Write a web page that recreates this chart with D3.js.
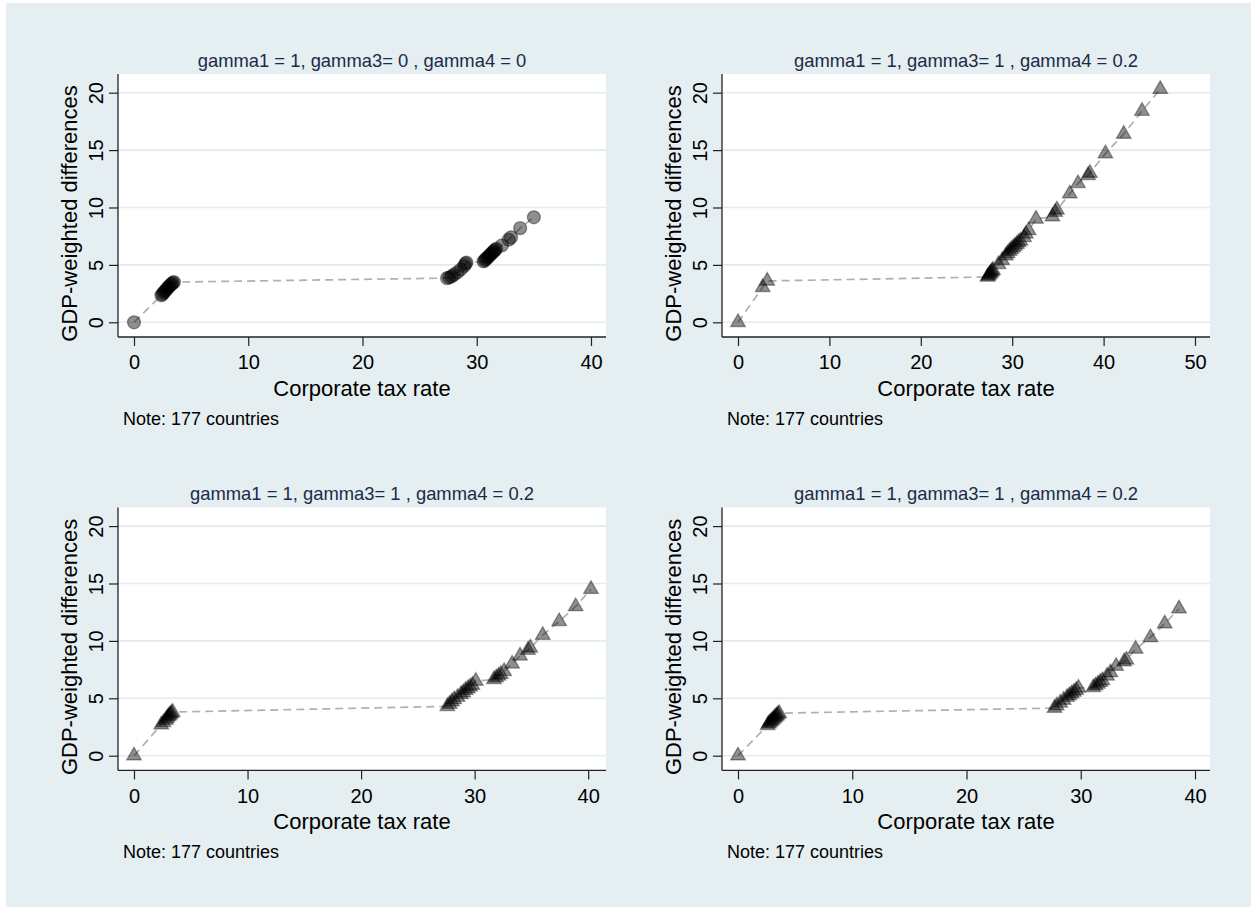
<!DOCTYPE html>
<html><head><meta charset="utf-8">
<script src="https://cdn.jsdelivr.net/npm/d3@7"></script>
<style>
body{margin:0;background:#fff}
svg{display:block}
text{font-family:"Liberation Sans",Arial,Helvetica,sans-serif}
</style>
</head><body>
<svg id="chart" width="1251" height="907"></svg>
<script>
// ---- data ----
const panelTitles = [
  "gamma1 = 1, gamma3= 0 , gamma4 = 0",
  "gamma1 = 1, gamma3= 1 , gamma4 = 0.2",
  "gamma1 = 1, gamma3= 1 , gamma4 = 0.2",
  "gamma1 = 1, gamma3= 1 , gamma4 = 0.2"
];
const xAxisTitle = "Corporate tax rate";
const yAxisTitle = "GDP-weighted differences";
const noteText = "Note: 177 countries";
const xTicks40 = [0, 10, 20, 30, 40];
const xTicks50 = [0, 10, 20, 30, 40, 50];
const yTicks = [0, 5, 10, 15, 20];

// panel 1 (circles)
const p1x = [0, 2.4, 2.5, 2.6, 2.7, 2.8, 2.9, 3.0, 3.1, 3.2, 3.3, 3.4, 3.5, 27.4, 27.6, 27.8, 28.0, 28.3, 28.6, 28.9, 29.0, 29.1, 30.6, 30.7, 30.8, 30.9, 31.0, 31.1, 31.2, 31.3, 31.4, 31.5, 31.6, 31.7, 32.2, 32.8, 33.0, 33.8, 35.0];
const p1y = [0, 2.35, 2.45, 2.6, 2.7, 2.8, 2.95, 3.05, 3.15, 3.25, 3.35, 3.45, 3.5, 3.85, 3.9, 4.0, 4.15, 4.35, 4.6, 4.9, 5.1, 5.2, 5.3, 5.4, 5.5, 5.6, 5.7, 5.8, 5.9, 6.0, 6.1, 6.2, 6.3, 6.4, 6.7, 7.2, 7.4, 8.2, 9.15];
// panel 2 (triangles)
const p2x = [0, 2.7, 3.2, 27.3, 27.4, 27.5, 27.6, 27.7, 27.8, 27.9, 28.5, 28.9, 29.3, 29.5, 29.7, 29.9, 30.1, 30.3, 30.5, 30.7, 30.9, 31.3, 31.5, 31.8, 32.6, 34.4, 34.7, 34.9, 36.3, 37.2, 38.3, 38.5, 40.2, 42.2, 44.2, 46.2];
const p2y = [0, 3.05, 3.6, 3.95, 4.05, 4.15, 4.25, 4.35, 4.45, 4.55, 5.05, 5.4, 5.8, 6.0, 6.2, 6.35, 6.5, 6.65, 6.8, 6.95, 7.1, 7.4, 7.7, 8.0, 9.0, 9.2, 9.6, 9.8, 11.2, 12.1, 12.8, 13.0, 14.7, 16.4, 18.4, 20.3];
// panel 3 (triangles)
const p3x = [0, 2.4, 2.6, 2.8, 2.9, 3.0, 3.1, 3.2, 3.3, 3.4, 27.6, 27.8, 28.0, 28.2, 28.5, 28.8, 29.0, 29.2, 29.4, 29.6, 29.8, 30.1, 31.7, 31.9, 32.1, 32.3, 32.6, 33.3, 34.0, 34.7, 34.9, 36.0, 37.45, 38.9, 40.25];
const p3y = [0, 2.7, 2.9, 3.1, 3.25, 3.4, 3.5, 3.6, 3.7, 3.8, 4.3, 4.5, 4.7, 4.9, 5.1, 5.35, 5.5, 5.7, 5.85, 6.0, 6.15, 6.5, 6.65, 6.8, 6.95, 7.1, 7.35, 8.0, 8.7, 9.2, 9.4, 10.5, 11.7, 13.0, 14.5];
// panel 4 (triangles)
const p4x = [0, 2.6, 2.7, 2.8, 2.9, 3.0, 3.1, 3.2, 3.3, 3.4, 3.5, 3.6, 27.7, 27.9, 28.2, 28.5, 28.8, 29.0, 29.2, 29.4, 29.6, 29.8, 31.1, 31.3, 31.5, 31.7, 31.9, 32.3, 32.6, 33.1, 33.8, 34.0, 34.8, 36.1, 37.35, 38.6];
const p4y = [0, 2.65, 2.8, 2.9, 3.0, 3.1, 3.2, 3.3, 3.4, 3.5, 3.6, 3.7, 4.15, 4.35, 4.6, 4.85, 5.1, 5.25, 5.4, 5.55, 5.7, 5.9, 5.95, 6.1, 6.25, 6.4, 6.55, 6.95, 7.25, 7.8, 8.2, 8.35, 9.3, 10.3, 11.5, 12.8];

// ---- layout ----
const svg = d3.select("#chart");
svg.append("rect").attr("x", 6).attr("y", 3).attr("width", 1245).attr("height", 904).attr("fill", "#e5eef0");

const PW = 488, PH = 263;
const panels = [
  {title: panelTitles[0], xs: p1x, ys: p1y, ticks: xTicks40, shape: "circle", left: 118, top: 74},
  {title: panelTitles[1], xs: p2x, ys: p2y, ticks: xTicks50, shape: "triangle", left: 722, top: 74},
  {title: panelTitles[2], xs: p3x, ys: p3y, ticks: xTicks40, shape: "triangle", left: 118, top: 507.4},
  {title: panelTitles[3], xs: p4x, ys: p4y, ticks: xTicks40, shape: "triangle", left: 722, top: 507.4}
];

panels.forEach(p => {
  const g = svg.append("g").attr("transform", `translate(${p.left},${p.top})`);
  const xMax = Math.max(d3.max(p.ticks), d3.max(p.xs));
  const x = d3.scaleLinear().domain([0, xMax]).range([16, PW - 15]);
  const y = d3.scaleLinear().domain([0, 20]).range([248.3, 18.7]);

  g.append("rect").attr("width", PW).attr("height", PH).attr("fill", "#fff");

  // gridlines
  g.selectAll("line.grid").data(yTicks).enter().append("line")
    .attr("x1", 0).attr("x2", PW)
    .attr("y1", d => y(d)).attr("y2", d => y(d))
    .attr("stroke", "#e2ebee").attr("stroke-width", 1.6);

  // connecting dashed line
  const pts = p.xs.map((v, i) => [v, p.ys[i]]);
  g.append("path").datum(pts)
    .attr("d", d3.line().x(d => x(d[0])).y(d => y(d[1])))
    .attr("fill", "none").attr("stroke", "#b0b0b0").attr("stroke-width", 1.7)
    .attr("stroke-dasharray", "8,5");

  // markers
  const sym = p.shape === "circle" ? d3.symbol().type(d3.symbolCircle).size(132)
                                   : d3.symbol().type(d3.symbolTriangle).size(92);
  g.selectAll("path.mk").data(pts).enter().append("path")
    .attr("d", sym)
    .attr("transform", d => `translate(${x(d[0])},${y(d[1])})`)
    .attr("fill", "#000").attr("fill-opacity", 0.44)
    .attr("stroke", "#000").attr("stroke-opacity", 0.38).attr("stroke-width", 1.3);

  // axes
  const xa = g.append("g").attr("transform", `translate(0,${PH})`)
    .call(d3.axisBottom(x).tickValues(p.ticks).tickSize(9).tickPadding(9).tickSizeOuter(0).tickFormat(d3.format("d")));
  xa.select(".domain").remove();
  xa.selectAll("line").attr("stroke", "#222").attr("stroke-width", 1.2);
  xa.selectAll("text").attr("font-size", 20).attr("fill", "#000");

  const ya = g.append("g")
    .call(d3.axisLeft(y).tickValues(yTicks).tickSize(9).tickSizeOuter(0).tickFormat(d3.format("d")));
  ya.select(".domain").remove();
  ya.selectAll("line").attr("stroke", "#222").attr("stroke-width", 1.2);
  ya.selectAll("text").attr("font-size", 20).attr("fill", "#000")
    .attr("x", 0).attr("dy", null).attr("text-anchor", "middle")
    .attr("transform", "translate(-15,0) rotate(-90)");

  g.append("line").attr("x1", 0).attr("x2", 0).attr("y1", 0).attr("y2", PH).attr("stroke", "#222").attr("stroke-width", 1.3);
  g.append("line").attr("x1", 0).attr("x2", PW).attr("y1", PH).attr("y2", PH).attr("stroke", "#222").attr("stroke-width", 1.3);

  // titles
  g.append("text").attr("x", PW / 2).attr("y", -7.5).attr("text-anchor", "middle")
    .attr("font-size", 18.4).attr("fill", "#1c2a4a").text(p.title);
  g.append("text").attr("x", PW / 2).attr("y", PH + 59).attr("text-anchor", "middle")
    .attr("font-size", 22).attr("fill", "#000").text(xAxisTitle);
  g.append("text").attr("transform", `translate(-41,${PH / 2 + 8}) rotate(-90)`).attr("text-anchor", "middle")
    .attr("font-size", 22).attr("fill", "#000").text(yAxisTitle);
  g.append("text").attr("x", 5).attr("y", PH + 88).attr("font-size", 18)
    .attr("fill", "#000").text(noteText);
});
</script>
</body></html>
